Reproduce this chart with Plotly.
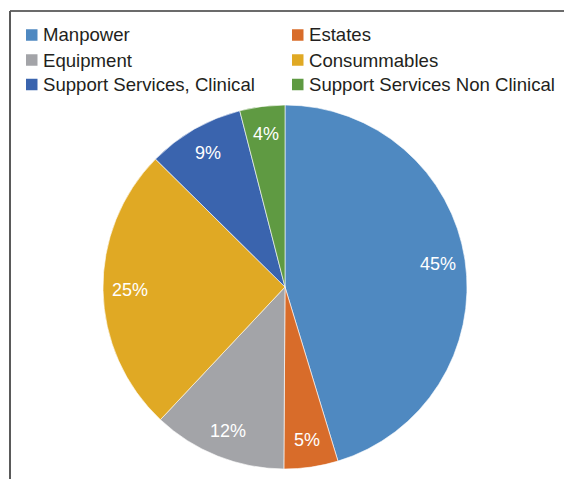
import math
import plotly.graph_objects as go

labels = ["Manpower", "Estates", "Equipment", "Consummables",
          "Support Services, Clinical", "Support Services Non Clinical"]
values = [45.3, 4.8, 11.9, 25.4, 8.6, 4.0]
colors = ["#4F89C1", "#D86C2A", "#A3A4A8", "#E0A924", "#3A64AE", "#5F9A42"]

W, H = 564, 479
CX, CY, R = 285, 287, 182  # pie centre / radius in pixels

fig = go.Figure()
fig.add_trace(go.Pie(
    labels=labels, values=values, sort=False, direction="clockwise", rotation=0,
    marker=dict(colors=colors, line=dict(color="white", width=0.6)),
    textinfo="none",
    domain=dict(x=[(CX - R) / W, (CX + R) / W], y=[1 - (CY + R) / H, 1 - (CY - R) / H]),
    showlegend=False, hoverinfo="label+percent",
))

annotations = []
shapes = []

# percentage labels placed at slice mid-angles
total = sum(values)
cum = 0.0
for v in values:
    mid = (cum + v / 2) / total * 2 * math.pi
    cum += v
    px = CX + 0.85 * R * math.sin(mid)
    py = CY - 0.85 * R * math.cos(mid)
    annotations.append(dict(text=f"{round(v / total * 100)}%", xref="paper", yref="paper",
                            x=px / W, y=1 - py / H, xanchor="center", yanchor="middle",
                            showarrow=False,
                            font=dict(family="Liberation Sans, Arial", size=18, color="white")))

# legend drawn as swatches + text, two columns
col_sq = [26, 292]
row_y = [35, 60, 84.5]
for i, (lab, col) in enumerate(zip(labels, colors)):
    r, c = divmod(i, 2)
    x0 = col_sq[c]
    yc = row_y[r]
    shapes.append(dict(type="rect", xref="paper", yref="paper",
                       x0=x0 / W, x1=(x0 + 11.5) / W,
                       y0=1 - (yc + 5.75) / H, y1=1 - (yc - 5.75) / H,
                       fillcolor=col, line=dict(width=0)))
    annotations.append(dict(text=lab, xref="paper", yref="paper",
                            x=(x0 + 15) / W, y=1 - yc / H,
                            xanchor="left", yanchor="middle", showarrow=False,
                            font=dict(family="Liberation Sans, Arial", size=18.6, color="#231F20")))

# frame (top and left edges)
shapes.append(dict(type="line", xref="paper", yref="paper",
                   x0=10 / W, x1=1, y0=1 - 11 / H, y1=1 - 11 / H,
                   line=dict(color="#3a3a3a", width=1.5)))
shapes.append(dict(type="line", xref="paper", yref="paper",
                   x0=10 / W, x1=10 / W, y0=1 - 11 / H, y1=0,
                   line=dict(color="#5a5a5a", width=2)))

fig.update_layout(
    width=W, height=H, margin=dict(l=0, r=0, t=0, b=0),
    paper_bgcolor="white", plot_bgcolor="white",
    shapes=shapes, annotations=annotations, showlegend=False,
)

fig.write_html("out.html")
